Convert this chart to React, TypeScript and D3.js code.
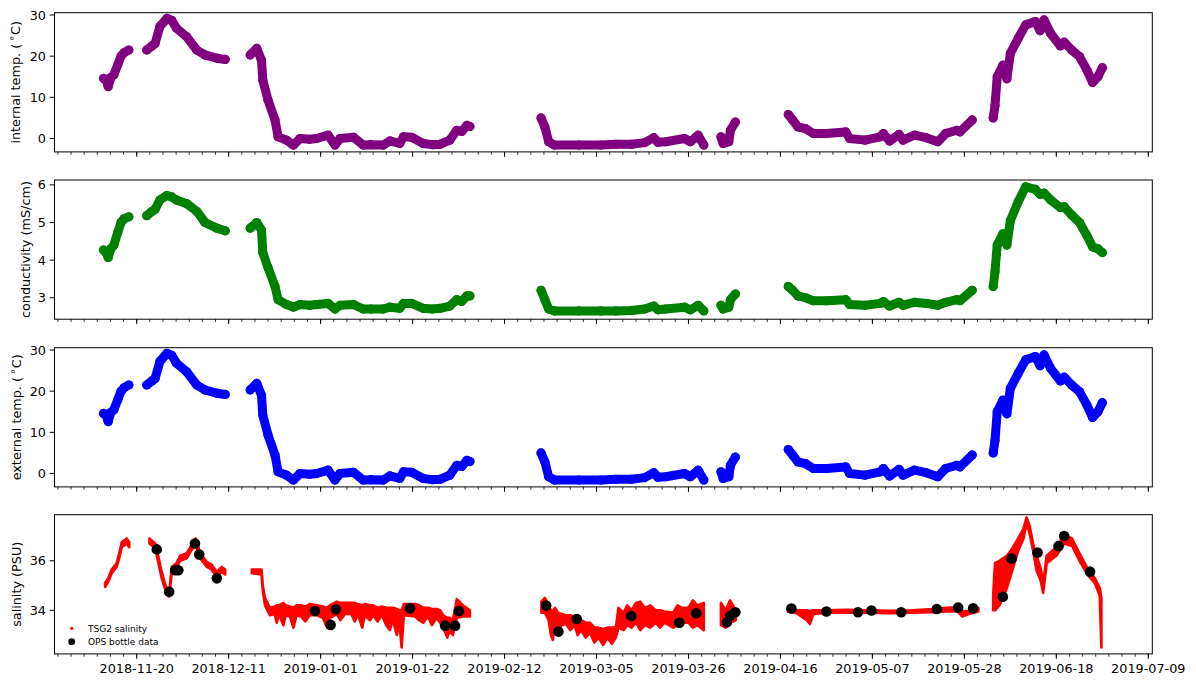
import * as d3 from 'd3';
import React from 'react';

type Pt = [string, number];
type Band = [string, number, number];

// internal temperature readings, one array per recording stretch
const internalTemp: Pt[][] = [
  [
    ['2018-11-12 10', 14.6], ['2018-11-13 00', 14.2], ['2018-11-13 12', 12.6], ['2018-11-14 02', 14.8],
    ['2018-11-14 19', 15.5], ['2018-11-15 17', 18.0], ['2018-11-16 10', 20.0], ['2018-11-17 02', 20.8],
    ['2018-11-18 05', 21.5],
  ],
  [
    ['2018-11-22 07', 21.5], ['2018-11-23 12', 22.5], ['2018-11-24 05', 23.1], ['2018-11-25 07', 27.2],
    ['2018-11-26 22', 29.2], ['2018-11-28 00', 28.7], ['2018-11-29 02', 26.8], ['2018-12-01 10', 24.7],
    ['2018-12-03 17', 21.5], ['2018-12-05 14', 20.3], ['2018-12-08 07', 19.5], ['2018-12-10 05', 19.2],
  ],
  [
    ['2018-12-15 22', 20.3], ['2018-12-17 10', 21.9], ['2018-12-18 12', 19.0], ['2018-12-18 19', 14.2],
    ['2018-12-20 00', 9.3], ['2018-12-21 14', 4.5], ['2018-12-22 07', 0.4], ['2018-12-24 05', -0.4],
    ['2018-12-25 19', -1.6], ['2018-12-27 07', 0.0], ['2018-12-29 12', -0.2], ['2018-12-31 02', 0.0],
    ['2019-01-02 17', 0.8], ['2019-01-04 07', -1.6], ['2019-01-05 10', 0.0], ['2019-01-08 12', 0.3],
    ['2019-01-10 17', -1.6], ['2019-01-12 12', -1.5], ['2019-01-15 07', -1.6], ['2019-01-16 19', -0.6],
    ['2019-01-19 02', -1.2], ['2019-01-19 22', 0.4], ['2019-01-21 19', 0.3], ['2019-01-24 10', -1.2],
    ['2019-01-26 12', -1.5], ['2019-01-28 07', -1.4], ['2019-01-30 12', -0.4], ['2019-02-01 02', 2.0],
    ['2019-02-02 05', 1.7], ['2019-02-03 10', 3.2], ['2019-02-04 02', 2.9],
  ],
  [
    ['2019-02-20 08', 5.0], ['2019-02-21 05', 2.8], ['2019-02-22 02', -0.8], ['2019-02-23 10', -1.6],
    ['2019-03-01 00', -1.6], ['2019-03-06 00', -1.6], ['2019-03-09 10', -1.4], ['2019-03-13 00', -1.4],
    ['2019-03-16 00', -1.0], ['2019-03-18 02', 0.2], ['2019-03-19 00', -0.9], ['2019-03-20 19', -0.8],
    ['2019-03-25 02', 0.0], ['2019-03-26 10', -0.8], ['2019-03-28 05', 0.8], ['2019-03-29 12', -1.6],
  ],
  [
    ['2019-04-02 10', 0.4], ['2019-04-02 22', -1.2], ['2019-04-04 05', -0.8], ['2019-04-04 14', 2.0],
    ['2019-04-05 17', 4.0],
  ],
  [
    ['2019-04-17 19', 5.8], ['2019-04-18 19', 4.5], ['2019-04-20 00', 2.8], ['2019-04-21 17', 2.4],
    ['2019-04-23 12', 1.2], ['2019-04-26 12', 1.2], ['2019-04-30 22', 1.6], ['2019-05-01 19', 0.0],
    ['2019-05-05 07', -0.4], ['2019-05-08 19', 0.4], ['2019-05-09 12', 1.2], ['2019-05-10 22', -0.6],
    ['2019-05-13 02', 1.0], ['2019-05-14 00', -0.4], ['2019-05-16 14', 0.8], ['2019-05-19 07', 0.2],
    ['2019-05-21 22', -0.8], ['2019-05-23 17', 1.2], ['2019-05-26 07', 2.0], ['2019-05-27 00', 1.6],
    ['2019-05-29 19', 4.5],
  ],
  [
    ['2019-06-03 14', 5.0], ['2019-06-04 00', 8.0], ['2019-06-04 12', 15.0], ['2019-06-05 19', 17.8],
    ['2019-06-06 17', 14.5], ['2019-06-07 12', 20.7], ['2019-06-09 07', 24.3], ['2019-06-11 00', 27.6],
    ['2019-06-13 05', 28.4], ['2019-06-14 07', 26.2], ['2019-06-15 05', 28.8], ['2019-06-16 17', 25.5],
    ['2019-06-18 22', 22.5], ['2019-06-19 19', 23.4], ['2019-06-21 12', 21.5], ['2019-06-23 07', 19.9],
    ['2019-06-25 00', 16.6], ['2019-06-26 07', 13.6], ['2019-06-27 12', 15.0], ['2019-06-28 12', 17.2],
  ],
];

// external sensor reads the same as the internal one on this scale
const externalTemp: Pt[][] = internalTemp;

const conductivity: Pt[][] = [
  [
    ['2018-11-12 10', 4.27], ['2018-11-13 00', 4.2], ['2018-11-13 12', 4.07], ['2018-11-14 02', 4.3],
    ['2018-11-14 19', 4.4], ['2018-11-15 17', 4.75], ['2018-11-16 10', 5.0], ['2018-11-17 02', 5.1],
    ['2018-11-18 05', 5.15],
  ],
  [
    ['2018-11-22 07', 5.18], ['2018-11-23 12', 5.3], ['2018-11-24 05', 5.35], ['2018-11-25 07', 5.6],
    ['2018-11-26 22', 5.72], ['2018-11-28 00', 5.68], ['2018-11-29 02', 5.6], ['2018-12-01 10', 5.5],
    ['2018-12-03 17', 5.3], ['2018-12-05 14', 5.0], ['2018-12-08 07', 4.85], ['2018-12-10 05', 4.78],
  ],
  [
    ['2018-12-15 22', 4.85], ['2018-12-17 10', 5.0], ['2018-12-18 12', 4.8], ['2018-12-18 19', 4.2],
    ['2018-12-20 00', 3.8], ['2018-12-21 14', 3.3], ['2018-12-22 07', 2.95], ['2018-12-24 05', 2.82],
    ['2018-12-25 19', 2.75], ['2018-12-27 07', 2.82], ['2018-12-29 12', 2.8], ['2018-12-31 02', 2.82],
    ['2019-01-02 17', 2.85], ['2019-01-04 07', 2.7], ['2019-01-05 10', 2.8], ['2019-01-08 12', 2.82],
    ['2019-01-10 17', 2.7], ['2019-01-12 12', 2.7], ['2019-01-15 07', 2.7], ['2019-01-16 19', 2.75],
    ['2019-01-19 02', 2.72], ['2019-01-19 22', 2.85], ['2019-01-21 19', 2.85], ['2019-01-24 10', 2.72],
    ['2019-01-26 12', 2.7], ['2019-01-28 07', 2.72], ['2019-01-30 12', 2.78], ['2019-02-01 02', 2.95],
    ['2019-02-02 05', 2.9], ['2019-02-03 10', 3.05], ['2019-02-04 02', 3.05],
  ],
  [
    ['2019-02-20 08', 3.2], ['2019-02-21 05', 2.95], ['2019-02-22 02', 2.7], ['2019-02-23 10', 2.65],
    ['2019-03-01 00', 2.65], ['2019-03-06 00', 2.65], ['2019-03-09 10', 2.65], ['2019-03-13 00', 2.66],
    ['2019-03-16 00', 2.7], ['2019-03-18 02', 2.78], ['2019-03-19 00', 2.68], ['2019-03-20 19', 2.7],
    ['2019-03-25 02', 2.75], ['2019-03-26 10', 2.68], ['2019-03-28 05', 2.8], ['2019-03-29 12', 2.65],
  ],
  [
    ['2019-04-02 10', 2.8], ['2019-04-02 22', 2.7], ['2019-04-04 05', 2.75], ['2019-04-04 14', 2.95],
    ['2019-04-05 17', 3.1],
  ],
  [
    ['2019-04-17 19', 3.3], ['2019-04-18 19', 3.2], ['2019-04-20 00', 3.05], ['2019-04-21 17', 3.0],
    ['2019-04-23 12', 2.92], ['2019-04-26 12', 2.92], ['2019-04-30 22', 2.95], ['2019-05-01 19', 2.82],
    ['2019-05-05 07', 2.8], ['2019-05-08 19', 2.85], ['2019-05-09 12', 2.9], ['2019-05-10 22', 2.78],
    ['2019-05-13 02', 2.88], ['2019-05-14 00', 2.8], ['2019-05-16 14', 2.88], ['2019-05-19 07', 2.85],
    ['2019-05-21 22', 2.8], ['2019-05-23 17', 2.88], ['2019-05-26 07', 2.95], ['2019-05-27 00', 2.92],
    ['2019-05-29 19', 3.2],
  ],
  [
    ['2019-06-03 14', 3.3], ['2019-06-04 00', 3.7], ['2019-06-04 12', 4.4], ['2019-06-05 19', 4.7],
    ['2019-06-06 17', 4.4], ['2019-06-07 12', 5.05], ['2019-06-09 07', 5.55], ['2019-06-11 00', 5.95],
    ['2019-06-13 05', 5.88], ['2019-06-14 07', 5.75], ['2019-06-15 05', 5.78], ['2019-06-16 17', 5.6],
    ['2019-06-18 22', 5.4], ['2019-06-19 19', 5.42], ['2019-06-21 12', 5.2], ['2019-06-23 07', 5.0],
    ['2019-06-25 00', 4.65], ['2019-06-26 07', 4.35], ['2019-06-27 12', 4.3], ['2019-06-28 12', 4.2],
  ],
];

// TSG2 salinity: [time, low, high] spread of the dense readings
const tsgSalinity: Band[][] = [
  [
    ['2018-11-12 19', 34.95, 35.1], ['2018-11-13 12', 35.15, 35.3], ['2018-11-14 07', 35.5, 35.65],
    ['2018-11-15 10', 35.75, 35.9], ['2018-11-16 00', 36.1, 36.3], ['2018-11-16 14', 36.55, 36.75],
    ['2018-11-17 17', 36.7, 36.9], ['2018-11-18 07', 36.55, 36.75],
  ],
  [
    ['2018-11-22 22', 36.7, 36.9], ['2018-11-24 05', 36.5, 36.7], ['2018-11-24 22', 35.95, 36.2],
    ['2018-11-25 17', 35.3, 35.55], ['2018-11-26 12', 34.85, 35.05], ['2018-11-27 10', 34.55, 34.7],
    ['2018-11-28 00', 35.5, 35.75], ['2018-11-29 02', 35.7, 35.9], ['2018-11-29 22', 36.0, 36.2],
    ['2018-12-01 10', 36.1, 36.3], ['2018-12-02 14', 36.45, 36.65], ['2018-12-03 12', 36.65, 36.9],
    ['2018-12-04 12', 36.1, 36.3], ['2018-12-06 00', 35.75, 35.95], ['2018-12-07 02', 35.65, 35.85],
    ['2018-12-08 07', 35.35, 35.55], ['2018-12-09 10', 35.55, 35.75], ['2018-12-10 05', 35.45, 35.65],
  ],
  [
    ['2018-12-16 07', 35.5, 35.65], ['2018-12-18 12', 35.45, 35.65], ['2018-12-18 19', 34.8, 35.0],
    ['2018-12-19 07', 34.2, 34.5], ['2018-12-20 10', 33.8, 34.1], ['2018-12-21 12', 33.85, 34.15],
    ['2018-12-22 00', 33.5, 34.2], ['2018-12-22 12', 33.85, 34.2], ['2018-12-23 12', 33.4, 34.3],
    ['2018-12-24 00', 33.8, 34.2], ['2018-12-25 00', 33.75, 34.15], ['2018-12-25 19', 33.3, 34.1],
    ['2018-12-26 12', 33.8, 34.2], ['2018-12-27 12', 33.75, 34.2], ['2018-12-28 12', 33.55, 34.15],
    ['2018-12-29 12', 33.8, 34.25], ['2018-12-31 05', 33.8, 34.2], ['2019-01-01 12', 33.7, 34.15],
    ['2019-01-02 12', 33.3, 34.1], ['2019-01-03 02', 33.7, 34.2], ['2019-01-04 17', 33.85, 34.35],
    ['2019-01-05 12', 33.6, 34.3], ['2019-01-06 14', 33.85, 34.3], ['2019-01-08 00', 33.85, 34.3],
    ['2019-01-08 19', 33.55, 34.3], ['2019-01-09 12', 33.85, 34.25], ['2019-01-10 12', 33.3, 34.2],
    ['2019-01-11 02', 33.8, 34.25], ['2019-01-12 07', 33.6, 34.2], ['2019-01-13 00', 33.8, 34.2],
    ['2019-01-14 00', 33.55, 34.1], ['2019-01-15 00', 33.8, 34.15], ['2019-01-16 00', 33.4, 34.1],
    ['2019-01-16 19', 33.2, 34.1], ['2019-01-17 12', 33.6, 34.1], ['2019-01-18 10', 33.0, 34.05],
    ['2019-01-19 00', 33.5, 34.0], ['2019-01-19 12', 32.5, 34.0], ['2019-01-20 00', 33.8, 34.25],
    ['2019-01-22 14', 33.75, 34.25], ['2019-01-23 12', 33.6, 34.2], ['2019-01-24 10', 33.5, 34.1],
    ['2019-01-25 12', 33.75, 34.1], ['2019-01-26 10', 33.4, 34.05], ['2019-01-27 12', 33.7, 34.05],
    ['2019-01-28 07', 33.5, 34.0], ['2019-01-29 00', 33.3, 33.8], ['2019-01-29 22', 32.9, 33.7],
    ['2019-01-30 12', 33.2, 33.7], ['2019-01-31 05', 33.0, 33.6], ['2019-02-01 02', 33.7, 34.45],
    ['2019-02-02 12', 33.75, 34.2], ['2019-02-04 02', 33.75, 34.0],
  ],
  [
    ['2019-02-20 10', 33.9, 34.35], ['2019-02-21 05', 33.9, 34.5], ['2019-02-22 02', 33.6, 34.2],
    ['2019-02-22 14', 33.0, 34.0], ['2019-02-23 00', 32.8, 33.95], ['2019-02-23 12', 33.4, 34.1],
    ['2019-02-24 05', 33.0, 33.9], ['2019-02-25 00', 33.4, 33.85], ['2019-02-26 00', 33.45, 33.8],
    ['2019-02-27 00', 33.2, 33.8], ['2019-02-28 00', 33.4, 33.75], ['2019-02-28 17', 33.0, 33.8],
    ['2019-03-01 12', 33.2, 33.6], ['2019-03-02 12', 32.9, 33.5], ['2019-03-03 12', 33.1, 33.5],
    ['2019-03-04 12', 32.7, 33.3], ['2019-03-05 12', 32.9, 33.3], ['2019-03-06 12', 32.6, 33.25],
    ['2019-03-07 12', 32.9, 33.3], ['2019-03-08 12', 32.65, 33.3], ['2019-03-09 10', 32.9, 33.3],
    ['2019-03-10 00', 33.3, 34.1], ['2019-03-11 05', 33.2, 33.9], ['2019-03-12 00', 33.4, 34.2],
    ['2019-03-13 00', 33.3, 34.0], ['2019-03-14 00', 33.5, 34.3], ['2019-03-15 00', 33.2, 34.35],
    ['2019-03-16 00', 33.4, 34.1], ['2019-03-17 07', 33.3, 34.2], ['2019-03-18 12', 33.5, 34.0],
    ['2019-03-19 12', 33.3, 34.0], ['2019-03-20 12', 33.5, 33.95], ['2019-03-22 12', 33.3, 33.9],
    ['2019-03-23 12', 33.4, 34.2], ['2019-03-24 12', 33.5, 34.1], ['2019-03-26 00', 33.5, 34.1],
    ['2019-03-27 00', 33.3, 34.4], ['2019-03-28 00', 33.4, 34.2], ['2019-03-29 12', 33.2, 34.3],
  ],
  [
    ['2019-04-02 10', 33.4, 34.3], ['2019-04-03 12', 33.3, 34.0], ['2019-04-04 12', 33.5, 34.4],
    ['2019-04-05 19', 33.6, 34.0],
  ],
  [
    ['2019-04-17 17', 33.95, 34.15], ['2019-04-19 12', 33.9, 34.0], ['2019-04-22 00', 33.6, 34.0],
    ['2019-04-22 17', 33.45, 33.95], ['2019-04-23 12', 33.85, 34.0], ['2019-04-26 12', 33.9, 34.0],
    ['2019-05-01 00', 33.9, 34.02], ['2019-05-06 00', 33.9, 34.0], ['2019-05-11 00', 33.88, 33.98],
    ['2019-05-16 00', 33.9, 34.0], ['2019-05-21 00', 33.92, 34.05], ['2019-05-24 00', 33.95, 34.1],
    ['2019-05-26 12', 33.95, 34.12], ['2019-05-27 12', 33.75, 33.95], ['2019-05-29 00', 33.85, 33.98],
    ['2019-05-31 05', 33.95, 34.1],
  ],
  [
    ['2019-06-03 14', 34.0, 34.6], ['2019-06-04 00', 34.0, 35.9], ['2019-06-05 00', 34.2, 36.0],
    ['2019-06-05 19', 34.5, 36.1], ['2019-06-06 17', 34.9, 36.2], ['2019-06-07 14', 35.4, 36.4],
    ['2019-06-09 07', 36.4, 36.9], ['2019-06-10 12', 36.9, 37.3], ['2019-06-11 05', 37.5, 37.75],
    ['2019-06-11 22', 37.1, 37.4], ['2019-06-12 19', 36.3, 36.6], ['2019-06-13 12', 35.6, 36.2],
    ['2019-06-14 10', 35.2, 35.7], ['2019-06-15 00', 34.7, 35.1], ['2019-06-15 19', 35.9, 36.2],
    ['2019-06-18 00', 36.2, 36.55], ['2019-06-19 19', 36.7, 37.05], ['2019-06-21 14', 36.6, 36.9],
    ['2019-06-23 07', 36.0, 36.3], ['2019-06-25 02', 35.45, 35.7], ['2019-06-26 19', 35.1, 35.3],
    ['2019-06-27 22', 34.6, 34.9], ['2019-06-28 07', 32.5, 34.5],
  ],
];

const opsBottle: Pt[] = [
  ['2018-11-24 14', 36.46], ['2018-11-27 10', 34.75], ['2018-11-28 19', 35.62], ['2018-11-29 12', 35.62],
  ['2018-12-03 07', 36.7], ['2018-12-04 07', 36.25], ['2018-12-08 07', 35.29], ['2018-12-30 17', 33.97],
  ['2019-01-03 07', 33.41], ['2019-01-04 12', 34.04], ['2019-01-21 10', 34.08], ['2019-01-29 10', 33.38],
  ['2019-01-31 17', 33.38], ['2019-02-01 14', 33.97], ['2019-02-21 12', 34.19], ['2019-02-24 07', 33.14],
  ['2019-02-28 12', 33.65], ['2019-03-12 22', 33.77], ['2019-03-23 22', 33.5], ['2019-03-27 19', 33.88],
  ['2019-04-03 19', 33.52], ['2019-04-04 12', 33.78], ['2019-04-05 17', 33.92], ['2019-04-18 12', 34.07],
  ['2019-04-26 12', 33.95], ['2019-05-03 17', 33.92], ['2019-05-06 19', 33.99], ['2019-05-13 14', 33.92],
  ['2019-05-21 17', 34.05], ['2019-05-26 14', 34.11], ['2019-05-30 00', 34.08], ['2019-06-05 19', 34.55],
  ['2019-06-07 19', 36.09], ['2019-06-13 17', 36.33], ['2019-06-18 12', 36.59], ['2019-06-19 19', 37.0],
  ['2019-06-25 17', 35.56],
];

const xTickLabels = [
  '2018-11-20', '2018-12-11', '2019-01-01', '2019-01-22', '2019-02-12', '2019-03-05',
  '2019-03-26', '2019-04-16', '2019-05-07', '2019-05-28', '2019-06-18', '2019-07-09',
];
const tempTicks = [0, 10, 20, 30];
const condTicks = [3, 4, 5, 6];
const salTicks = [34, 36];

const parseTime = d3.timeParse('%Y-%m-%d %H');
const toDate = (s: string) => parseTime(s.length === 10 ? s + ' 00' : s) as Date;

const FONT = 'DejaVu Sans, sans-serif';
const left = 54.5;
const right = 1152.3;
const panelTops = [12.7, 180, 347.7, 514.7];
const panelH = 139.2;

const x = d3
  .scaleTime()
  .domain([new Date(2018, 10, 1, 5, 30), new Date(2019, 6, 9, 22)])
  .range([left, right]);

const majorTicks = xTickLabels.map(toDate);
const minorTicks: Date[] = [];
for (let d = d3.timeDay.offset(majorTicks[0], -18); d <= x.domain()[1]; d = d3.timeDay.offset(d, 3)) {
  minorTicks.push(d);
}

function Frame({ top, yScale, ticks, label, labelX, showDates }: any) {
  return (
    <g>
      {minorTicks.map((d, i) => (
        <line key={'m' + i} x1={x(d)} x2={x(d)} y1={top + panelH} y2={top + panelH + 2.8} stroke="#000" strokeWidth={0.8} />
      ))}
      {majorTicks.map((d, i) => (
        <line key={'M' + i} x1={x(d)} x2={x(d)} y1={top + panelH} y2={top + panelH + 4.9} stroke="#000" strokeWidth={1} />
      ))}
      {showDates &&
        majorTicks.map((d, i) => (
          <text key={'l' + i} x={x(d)} y={top + panelH + 19} textAnchor="middle" fontSize={12.8} fontFamily={FONT} fill="#000">
            {xTickLabels[i]}
          </text>
        ))}
      {ticks.map((t: number) => (
        <g key={t}>
          <line x1={left - 4.9} x2={left} y1={yScale(t)} y2={yScale(t)} stroke="#000" strokeWidth={1} />
          <text x={left - 8.5} y={yScale(t)} dy="0.36em" textAnchor="end" fontSize={12.8} fontFamily={FONT} fill="#000">
            {t}
          </text>
        </g>
      ))}
      <text
        transform={`translate(${labelX},${top + panelH / 2}) rotate(-90)`}
        textAnchor="middle"
        fontSize={12.8}
        fontFamily={FONT}
        fill="#000"
      >
        {label}
      </text>
      <rect x={left} y={top} width={right - left} height={panelH} fill="none" stroke="#000" strokeWidth={1} />
    </g>
  );
}

function degLabel(name: string) {
  return (
    <>
      {name + ' (\u2009'}
      <tspan dy={-4.5} fontSize={10}>{'\u2218'}</tspan>
      <tspan dy={4.5}>C)</tspan>
    </>
  );
}

function DotSeries({ segs, y, color }: { segs: Pt[][]; y: d3.ScaleLinear<number, number>; color: string }) {
  const line = d3
    .line<Pt>()
    .x(p => x(toDate(p[0])))
    .y(p => y(p[1]));
  return (
    <g>
      {segs.map((seg, i) => (
        <g key={i}>
          <path d={line(seg) ?? ''} fill="none" stroke={color} strokeWidth={9} strokeLinecap="round" strokeLinejoin="round" />
          {seg.map((p, j) => (
            <circle key={j} cx={x(toDate(p[0]))} cy={y(p[1])} r={4.6} fill={color} />
          ))}
        </g>
      ))}
    </g>
  );
}

export default function App() {
  const yTemp1 = d3.scaleLinear().domain([-3.26, 30.56]).range([panelTops[0] + panelH, panelTops[0]]);
  const yCond = d3.scaleLinear().domain([2.43, 6.13]).range([panelTops[1] + panelH, panelTops[1]]);
  const yTemp2 = d3.scaleLinear().domain([-3.26, 30.56]).range([panelTops[2] + panelH, panelTops[2]]);
  const ySal = d3.scaleLinear().domain([32.24, 37.86]).range([panelTops[3] + panelH, panelTops[3]]);

  const band = d3
    .area<Band>()
    .x(p => x(toDate(p[0])))
    .y0(p => ySal(p[1]))
    .y1(p => ySal(p[2]));

  return (
    <svg width={1196} height={680} style={{ position: 'absolute', left: 0, top: 0, background: '#fff' }}>
      <rect width={1196} height={680} fill="#fff" />
      <DotSeries segs={internalTemp} y={yTemp1} color="#800080" />
      <DotSeries segs={conductivity} y={yCond} color="#008000" />
      <DotSeries segs={externalTemp} y={yTemp2} color="#0000ff" />

      <g>
        {tsgSalinity.map((seg, i) => (
          <path key={i} d={band(seg) ?? ''} fill="#ff0000" stroke="#ff0000" strokeWidth={2.6} strokeLinejoin="round" />
        ))}
        {opsBottle.map((p, i) => (
          <circle key={i} cx={x(toDate(p[0]))} cy={ySal(p[1])} r={5.3} fill="#000" />
        ))}
      </g>

      <Frame top={panelTops[0]} yScale={yTemp1} ticks={tempTicks} label={degLabel('internal temp.')} labelX={19.5} />
      <Frame top={panelTops[1]} yScale={yCond} ticks={condTicks} label="conductivity (mS/cm)" labelX={29.5} />
      <Frame top={panelTops[2]} yScale={yTemp2} ticks={tempTicks} label={degLabel('external temp.')} labelX={20.5} />
      <Frame top={panelTops[3]} yScale={ySal} ticks={salTicks} label="salinity (PSU)" labelX={21} showDates />

      <g fontFamily={FONT} fontSize={9} fill="#000">
        <circle cx={71.7} cy={628.3} r={1.6} fill="#ff0000" />
        <text x={88} y={631.5}>TSG2 salinity</text>
        <circle cx={71.7} cy={641.7} r={3.4} fill="#000" />
        <text x={88} y={645}>OPS bottle data</text>
      </g>
    </svg>
  );
}
